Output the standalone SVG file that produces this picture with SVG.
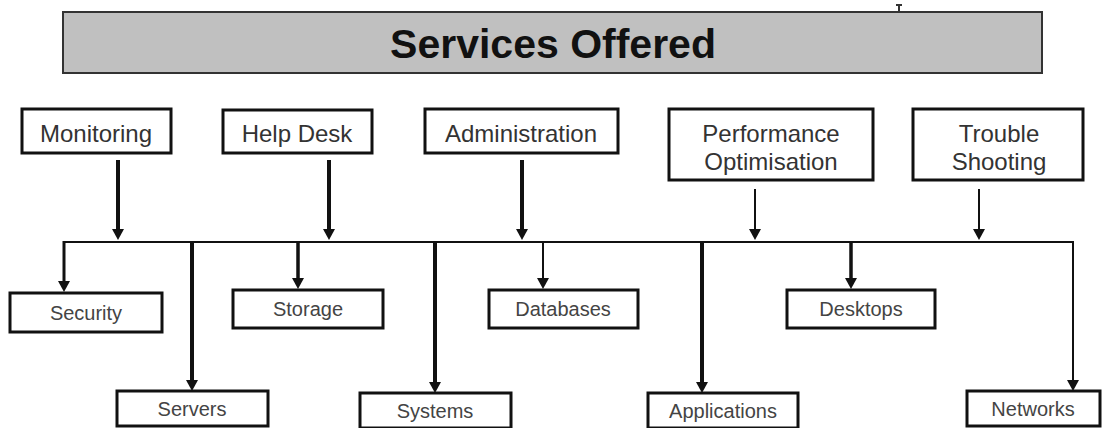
<svg xmlns="http://www.w3.org/2000/svg" width="1108" height="428" viewBox="0 0 1108 428">
<style>
.box{fill:#fff;stroke:#111;stroke-width:3}
.t{font-family:"Liberation Sans",Arial,sans-serif;font-size:24px;fill:#333;text-anchor:middle}
.b{font-family:"Liberation Sans",Arial,sans-serif;font-size:20px;fill:#444;text-anchor:middle}
.ln{stroke:#111;fill:none}
</style>
<defs>
<marker id="ah" markerUnits="userSpaceOnUse" viewBox="0 0 11 12" refX="0" refY="6" markerWidth="11" markerHeight="12" orient="auto">
<path d="M0,0 L11,6 L0,12 Z" fill="#111"/>
</marker>
</defs>
<rect width="1108" height="428" fill="#fff"/>
<g id="title">
<rect x="63" y="12" width="979" height="61" fill="#c0c0c0" stroke="#333" stroke-width="2"/>
<text x="553" y="58" font-family="'Liberation Sans',Arial,sans-serif" font-size="41" font-weight="bold" text-anchor="middle" fill="#111">Services Offered</text>
<path d="M899,5 L899,12 M896,5 L902,5" stroke="#333" stroke-width="2"/>
</g>
<g id="monitoring"><rect class="box" x="22" y="109" width="149" height="44"/><text class="t" x="96" y="142">Monitoring</text></g>
<g id="helpdesk"><rect class="box" x="223" y="110" width="149" height="43"/><text class="t" x="297" y="142">Help Desk</text></g>
<g id="administration"><rect class="box" x="425" y="109" width="193" height="44"/><text class="t" x="521" y="142">Administration</text></g>
<g id="performance"><rect class="box" x="669" y="109" width="204" height="71"/><text class="t" x="771" y="142">Performance</text><text class="t" x="771" y="170">Optimisation</text></g>
<g id="trouble"><rect class="box" x="913" y="109" width="170" height="71"/><text class="t" x="999" y="142">Trouble</text><text class="t" x="999" y="170">Shooting</text></g>
<g id="security"><rect class="box" x="10" y="293" width="152" height="39"/><text class="b" x="86" y="320">Security</text></g>
<g id="storage"><rect class="box" x="233" y="290" width="150" height="38"/><text class="b" x="308" y="316">Storage</text></g>
<g id="databases"><rect class="box" x="489" y="290" width="149" height="38"/><text class="b" x="563" y="316">Databases</text></g>
<g id="desktops"><rect class="box" x="787" y="290" width="148" height="38"/><text class="b" x="861" y="316">Desktops</text></g>
<g id="servers"><rect class="box" x="117" y="391" width="151" height="35"/><text class="b" x="192" y="416">Servers</text></g>
<g id="systems"><rect class="box" x="360" y="393" width="151" height="35"/><text class="b" x="435" y="418">Systems</text></g>
<g id="applications"><rect class="box" x="648" y="393" width="150" height="35"/><text class="b" x="723" y="418">Applications</text></g>
<g id="networks"><rect class="box" x="967" y="391" width="133" height="35"/><text class="b" x="1033" y="416">Networks</text></g>
<g id="connectors">
<line class="ln" x1="64" y1="242" x2="1073" y2="242" stroke-width="2"/>
<line class="ln" x1="118" y1="160" x2="118" y2="229" stroke-width="4" marker-end="url(#ah)"/>
<line class="ln" x1="329" y1="160" x2="329" y2="229" stroke-width="4" marker-end="url(#ah)"/>
<line class="ln" x1="522" y1="160" x2="522" y2="229" stroke-width="4" marker-end="url(#ah)"/>
<line class="ln" x1="755" y1="189" x2="755" y2="229" stroke-width="2" marker-end="url(#ah)"/>
<line class="ln" x1="979" y1="189" x2="979" y2="229" stroke-width="2" marker-end="url(#ah)"/>
<line class="ln" x1="64" y1="241" x2="64" y2="281" stroke-width="3" marker-end="url(#ah)"/>
<line class="ln" x1="192" y1="241" x2="192" y2="380" stroke-width="4" marker-end="url(#ah)"/>
<line class="ln" x1="298" y1="241" x2="298" y2="278" stroke-width="3.5" marker-end="url(#ah)"/>
<line class="ln" x1="435" y1="241" x2="435" y2="382" stroke-width="4" marker-end="url(#ah)"/>
<line class="ln" x1="543" y1="241" x2="543" y2="278" stroke-width="2" marker-end="url(#ah)"/>
<line class="ln" x1="702" y1="241" x2="702" y2="382" stroke-width="4" marker-end="url(#ah)"/>
<line class="ln" x1="851" y1="241" x2="851" y2="278" stroke-width="3.5" marker-end="url(#ah)"/>
<line class="ln" x1="1073" y1="241" x2="1073" y2="380" stroke-width="2" marker-end="url(#ah)"/>
</g>
</svg>
